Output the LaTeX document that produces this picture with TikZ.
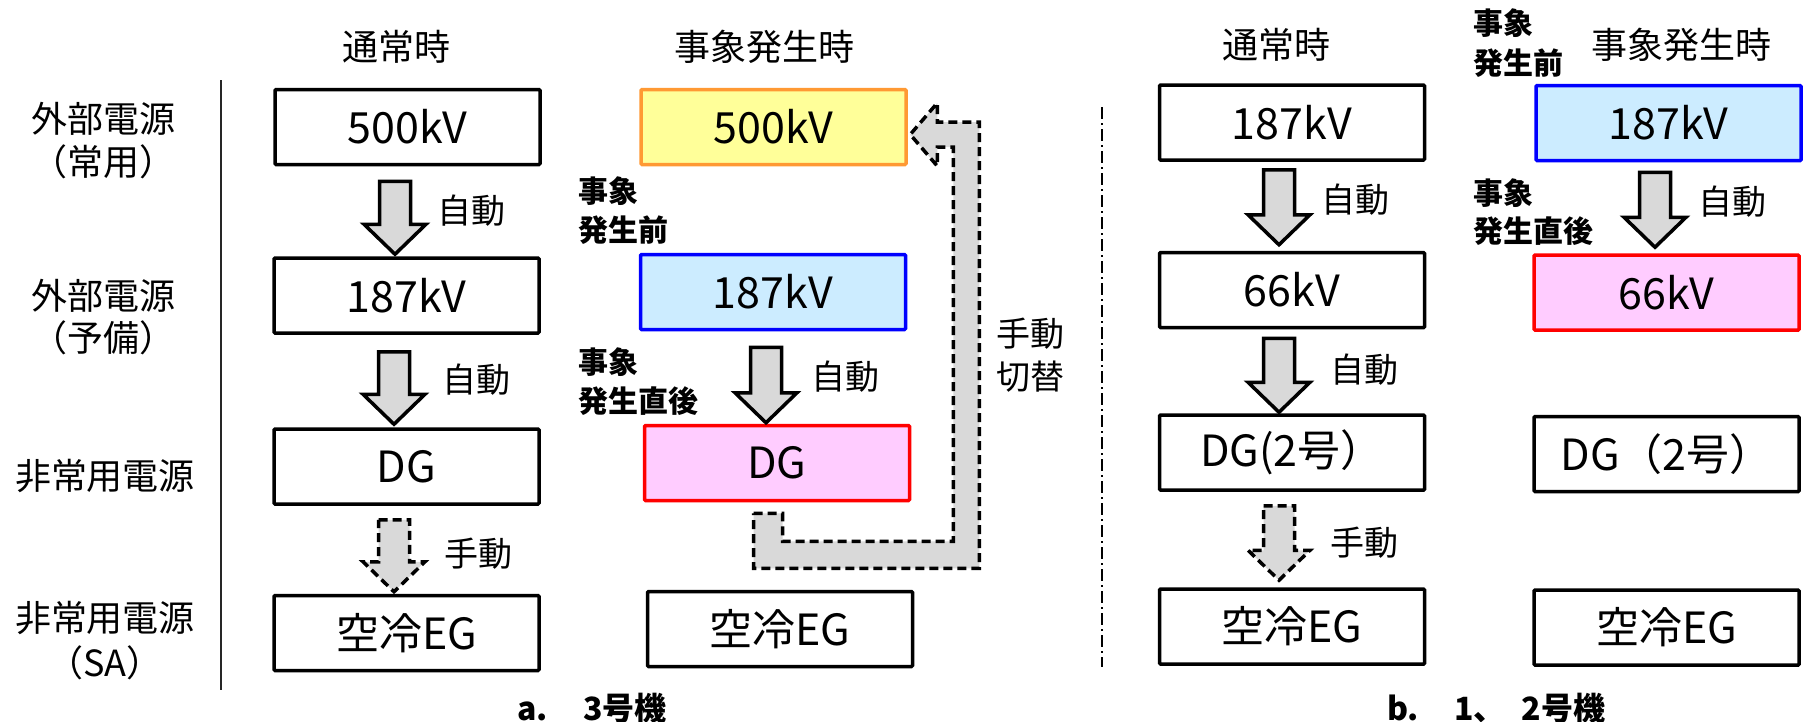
\documentclass[tikz,border=0pt]{standalone}
\usepackage{fontspec}
\setmainfont{Noto Sans CJK JP}
\usetikzlibrary{calc}
\definecolor{arrgray}{HTML}{D9D9D9}
\definecolor{yel}{HTML}{FFFF99}
\definecolor{orn}{HTML}{FF9933}
\definecolor{lblue}{HTML}{CCECFF}
\definecolor{pnk}{HTML}{FFCCFF}
\tikzset{
 box/.style={draw=black, line width=3.5pt, minimum width=265pt, minimum height=75pt, inner sep=0pt, font=\fontsize{43}{46}\selectfont, rounded corners=1pt},
 headtxt/.style={font=\fontsize{36}{40}\selectfont, inner sep=0pt},
 sidetxt/.style={font=\fontsize{36}{40}\selectfont, inner sep=0pt},
 lab/.style={font=\fontsize{34}{38}\selectfont, inner sep=0pt},
 smalltxt/.style={font=\bfseries\fontsize{30}{32}\selectfont, anchor=west, inner sep=0pt},
 captxt/.style={font=\bfseries\fontsize{32}{34}\selectfont, anchor=west, inner sep=0pt},
 blockarrow/.style={draw=black, fill=arrgray, line width=3.5pt, line join=miter},
 dasharrow/.style={draw=black, fill=arrgray, line width=3.5pt, dash pattern=on 9pt off 5pt, line join=miter},
}
% #1 style, #2 upper node, #3 lower node, #4 x offset (signed), #5 top gap, #6 tip gap
\newcommand\blockarr[6]{%
 \draw[#1] let \p1=(#2.south), \p2=(#3.north) in
 (\x1#4pt-15.5pt,\y1-#5pt) -- (\x1#4pt+15.5pt,\y1-#5pt) -- (\x1#4pt+15.5pt,\y2+#6pt+30pt)
 -- (\x1#4pt+31pt,\y2+#6pt+30pt) -- (\x1#4pt,\y2+#6pt) -- (\x1#4pt-31pt,\y2+#6pt+30pt)
 -- (\x1#4pt-15.5pt,\y2+#6pt+30pt) -- cycle;}
\begin{document}
\begin{tikzpicture}[x=1pt,y=-1pt]
\useasboundingbox (0,0) rectangle (1815,721);
\fill[white] (0,0) rectangle (1815,721);

% headers
\node[headtxt] (h1) at (396,47) {通常時};
\node[headtxt] (h2) at (764,47) {事象発生時};
\node[headtxt] (h3) at (1276,45) {通常時};
\node[headtxt] (h4) at (1681,45) {事象発生時};

% side labels
\node[sidetxt] (s1) at (103,119) {外部電源};
\node[sidetxt] (s1b) at (103,162) {（常用）};
\node[sidetxt] (s2) at (103,296) {外部電源};
\node[sidetxt] (s2b) at (103,338) {（予備）};
\node[sidetxt] (s3) at (105,476) {非常用電源};
\node[sidetxt] (s4) at (105,618) {非常用電源};
\node[sidetxt] (s4b) at (105,663) {（SA）};

% separators
\draw[line width=1.6pt, black!85] (221,80) -- (221,690);
\draw[line width=1.6pt, dash pattern=on 12pt off 4pt on 2pt off 4pt] (1102,107) -- (1102,667);

% column a1
\node[box] (a500) at (407.5,127) {500kV};
\node[box] (a187) at (406.5,295.5) {187kV};
\node[box] (adg) at (406.5,466.5) {DG};
\node[box] (aeg) at (406.5,633) {空冷EG};

% column a2
\node[box, draw=orn, fill=yel] (b500) at (773.5,127) {500kV};
\node[box, draw=blue, fill=lblue] (b187) at (773,292) {187kV};
\node[box, draw=red, fill=pnk] (bdg) at (777,463) {DG};
\node[box] (beg) at (780,629) {空冷EG};

% column b1
\node[box] (c187) at (1292,122.5) {187kV};
\node[box] (c66) at (1292,290) {66kV};
\node[box] (cdg) at (1292,452.5) {DG(2号）};
\node[box] (ceg) at (1292,626.5) {空冷EG};

% column b2
\node[box, draw=blue, fill=lblue] (d187) at (1668.5,123) {187kV};
\node[box, draw=red, fill=pnk] (d66) at (1666.5,292.5) {66kV};
\node[box] (ddg) at (1666.5,454) {DG（2号）};
\node[box] (deg) at (1666.5,627.5) {空冷EG};

% block arrows
\blockarr{blockarrow}{a500}{a187}{-12.5}{15}{2}
\blockarr{blockarrow}{a187}{adg}{-12.5}{17}{3}
\blockarr{dasharrow}{adg}{aeg}{-12.5}{14}{2}
\blockarr{blockarrow}{b187}{bdg}{-7}{16}{1}
\blockarr{blockarrow}{c187}{c66}{-13}{8}{6}
\blockarr{blockarrow}{c66}{cdg}{-13}{9}{1}
\blockarr{dasharrow}{cdg}{ceg}{-13}{14}{7}
\blockarr{blockarrow}{d187}{d66}{-13.5}{10}{6}

% manual switch path (DG -> 500kV)
\draw[dasharrow] let \p1=(bdg.south), \p2=(b500.east) in
 (\x1-23.5pt,\y1-11pt) -- (\x1+5.5pt,\y1-11pt) -- (\x1+5.5pt,\y1-39pt)
 -- (\x2+45.5pt,\y1-39pt) -- (\x2+45.5pt,\y2-20pt) -- (\x2+29.5pt,\y2-20pt)
 -- (\x2+29.5pt,\y2-39pt) -- (\x2+2.5pt,\y2-7.5pt) -- (\x2+29.5pt,\y2+24pt)
 -- (\x2+29.5pt,\y2+5pt) -- (\x2+71.5pt,\y2+5pt) -- (\x2+71.5pt,\y1-66pt)
 -- (\x1-23.5pt,\y1-66pt) -- cycle;

% arrow labels
\node[lab] (l1) at (471,211) {自動};
\node[lab] (l2) at (476,380) {自動};
\node[lab] (l3) at (478,554) {手動};
\node[lab] (l4) at (845,377) {自動};
\node[lab] (l5) at (1030,334) {手動};
\node[lab] (l6) at (1030,377) {切替};
\node[lab] (l7) at (1355,200) {自動};
\node[lab] (l8) at (1364,370) {自動};
\node[lab] (l9) at (1364,543) {手動};
\node[lab] (l10) at (1732,202) {自動};

% small bold labels
\node[smalltxt] (m1) at (578,191) {事象};
\node[smalltxt] (m2) at (578,230) {発生前};
\node[smalltxt] (m3) at (578,362) {事象};
\node[smalltxt] (m4) at (578,401) {発生直後};
\node[smalltxt] (m5) at (1473,23) {事象};
\node[smalltxt] (m6) at (1473,63) {発生前};
\node[smalltxt] (m7) at (1473,193) {事象};
\node[smalltxt] (m8) at (1473,231) {発生直後};

% captions
\node[captxt] (capa) at (517,708) {a.\hspace{1.1em}3号機};
\node[captxt] (capb) at (1387,708) {b.\hspace{1.1em}1、\hspace{0.5em}2号機};
\end{tikzpicture}
\end{document}
